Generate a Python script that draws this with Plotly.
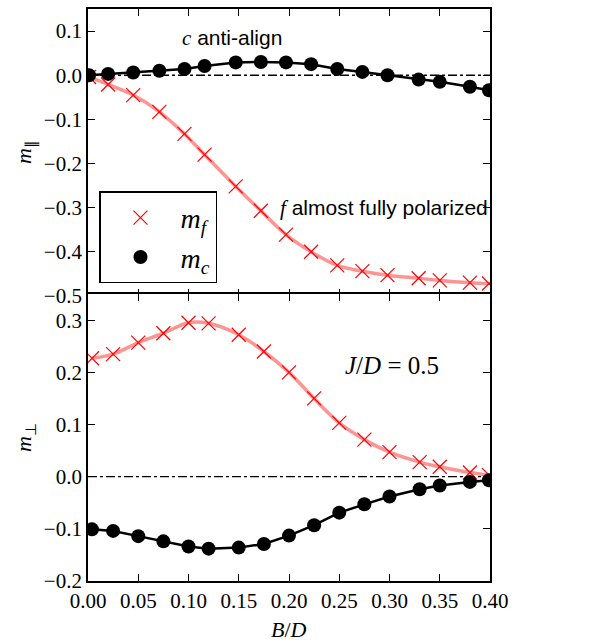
import plotly.graph_objects as go
from plotly.subplots import make_subplots

# ---- data ----
x_top = [0.001, 0.02, 0.045, 0.071, 0.096, 0.116, 0.147, 0.172, 0.197, 0.222,
         0.248, 0.273, 0.298, 0.329, 0.35, 0.38, 0.399]
mpar_f = [-0.004, -0.021, -0.045, -0.083, -0.133, -0.18, -0.252, -0.307, -0.361,
          -0.40, -0.431, -0.444, -0.453, -0.46, -0.465, -0.47, -0.472]
mpar_c = [0.0, 0.003, 0.006, 0.010, 0.014, 0.021, 0.029, 0.030, 0.029, 0.025,
          0.014, 0.0075, 0.0, -0.010, -0.015, -0.026, -0.034]

x_bot = [0.004, 0.025, 0.05, 0.075, 0.1, 0.12, 0.15, 0.175, 0.2, 0.225,
         0.25, 0.275, 0.3, 0.33, 0.35, 0.38, 0.399]
mperp_f = [0.227, 0.235, 0.257, 0.275, 0.295, 0.294, 0.272, 0.24, 0.2, 0.15,
           0.103, 0.071, 0.047, 0.028, 0.019, 0.008, 0.003]
mperp_c = [-0.101, -0.104, -0.114, -0.124, -0.134, -0.138, -0.136, -0.129, -0.113,
           -0.093, -0.069, -0.053, -0.038, -0.024, -0.017, -0.010, -0.007]

x_ticks = [0.0, 0.05, 0.10, 0.15, 0.20, 0.25, 0.30, 0.35, 0.40]
x_ticklabels = ["0.00", "0.05", "0.10", "0.15", "0.20", "0.25", "0.30", "0.35", "0.40"]
top_ticks = [0.1, 0.0, -0.1, -0.2, -0.3, -0.4, -0.5]
bot_ticks = [0.3, 0.2, 0.1, 0.0, -0.1, -0.2]

SERIF = "Liberation Serif"
SANS = "Liberation Sans"
RED_LINE = "rgba(255,60,60,0.55)"
LW = 1.8

def fmt(v):
    s = f"{v:.1f}"
    return s.replace("-", "\u2212")

fig = make_subplots(rows=2, cols=1, shared_xaxes=True, vertical_spacing=0)

# zero reference lines (drawn first so they sit beneath the data)
x_span = [x_ticks[0], x_ticks[-1]]
for r in (1, 2):
    fig.add_trace(go.Scatter(x=x_span, y=[0, 0], mode="lines",
                             line=dict(color="black", width=1.4, dash="dashdot"),
                             showlegend=False, hoverinfo="skip"), row=r, col=1)

# top panel
fig.add_trace(go.Scatter(x=x_top, y=mpar_f, mode="lines", line=dict(color=RED_LINE, width=3.5, shape="spline"),
                         showlegend=False, hoverinfo="skip"), row=1, col=1)
fig.add_trace(go.Scatter(x=x_top, y=mpar_c, mode="lines", line=dict(color="black", width=2.5),
                         showlegend=False, hoverinfo="skip"), row=1, col=1)
fig.add_trace(go.Scatter(x=x_top, y=mpar_f, mode="markers", name="<i>m</i><sub><i>f</i></sub>",
                         marker=dict(symbol="x-thin", size=14, line=dict(color="red", width=1.2), color="red")),
              row=1, col=1)
fig.add_trace(go.Scatter(x=x_top, y=mpar_c, mode="markers", name="<i>m</i><sub><i>c</i></sub>",
                         marker=dict(symbol="circle", size=14, color="black")), row=1, col=1)

# bottom panel
fig.add_trace(go.Scatter(x=x_bot, y=mperp_f, mode="lines", line=dict(color=RED_LINE, width=3.5, shape="spline"),
                         showlegend=False, hoverinfo="skip"), row=2, col=1)
fig.add_trace(go.Scatter(x=x_bot, y=mperp_c, mode="lines", line=dict(color="black", width=2.5),
                         showlegend=False, hoverinfo="skip"), row=2, col=1)
fig.add_trace(go.Scatter(x=x_bot, y=mperp_f, mode="markers", showlegend=False,
                         marker=dict(symbol="x-thin", size=14, line=dict(color="red", width=1.2), color="red")),
              row=2, col=1)
fig.add_trace(go.Scatter(x=x_bot, y=mperp_c, mode="markers", showlegend=False,
                         marker=dict(symbol="circle", size=14, color="black")), row=2, col=1)

axis_common = dict(showline=True, linecolor="black", linewidth=LW, mirror="ticks",
                   ticks="inside", ticklen=7, tickwidth=1.3, tickcolor="black",
                   showgrid=False, zeroline=False,
                   tickfont=dict(family=SERIF, size=21, color="black"))

fig.update_xaxes(range=[0, 0.4], tickvals=x_ticks, ticktext=x_ticklabels, **axis_common)
fig.update_xaxes(showticklabels=False, row=1, col=1)
half = (LW / 2) / 574
fig.update_yaxes(range=[-0.5, 0.15], tickvals=top_ticks, ticktext=[fmt(v) for v in top_ticks],
                 domain=[0.5 - half, 1], row=1, col=1, **axis_common)
fig.update_yaxes(range=[-0.2, 0.35], tickvals=bot_ticks, ticktext=[fmt(v) for v in bot_ticks],
                 domain=[0, 0.5 + half], row=2, col=1, **axis_common)

ann_font = dict(family=SANS, size=21, color="black")
fig.add_annotation(xref="paper", yref="paper", x=(232 - 88) / 402, y=(581 - 36) / 574,
                   xanchor="center", yanchor="middle",
                   text=f"<span style='font-family:\"{SERIF}\"'><i>c</i></span> anti-align",
                   showarrow=False, font=ann_font)
fig.add_annotation(xref="paper", yref="paper", x=(278 - 88) / 402, y=(581 - 207) / 574,
                   xanchor="left", yanchor="middle",
                   text=f"<span style='font-family:\"{SERIF}\"'><i>f</i></span> almost fully polarized",
                   showarrow=False, font=ann_font)
fig.add_annotation(xref="paper", yref="paper", x=(392 - 88) / 402, y=(581 - 365) / 574,
                   xanchor="center", yanchor="middle",
                   text="<i>J</i>/<i>D</i> = 0.5", showarrow=False,
                   font=dict(family=SERIF, size=25, color="black"))
fig.add_annotation(xref="paper", yref="paper", x=(25 - 88) / 402, y=0.75, textangle=-90,
                   xanchor="center", yanchor="middle",
                   text="<i>m</i><sub>\u2225</sub>", showarrow=False,
                   font=dict(family=SERIF, size=22, color="black"))
fig.add_annotation(xref="paper", yref="paper", x=(25 - 88) / 402, y=0.25, textangle=-90,
                   xanchor="center", yanchor="middle",
                   text="<i>m</i><sub>\u22a5</sub>", showarrow=False,
                   font=dict(family=SERIF, size=22, color="black"))
fig.add_annotation(xref="paper", yref="paper", x=0.5, y=(581 - 630) / 574,
                   xanchor="center", yanchor="middle",
                   text="<i>B</i>/<i>D</i>", showarrow=False,
                   font=dict(family=SERIF, size=22, color="black"))

fig.update_layout(
    width=614, height=642,
    margin=dict(l=88, r=124, t=7, b=61),
    plot_bgcolor="white", paper_bgcolor="white",
    showlegend=True,
    legend=dict(x=(99 - 88) / 402, y=(581 - 190) / 574, xanchor="left", yanchor="top",
                bordercolor="black", borderwidth=1.5, bgcolor="white",
                font=dict(family=SERIF, size=28, color="black"),
                itemwidth=70, tracegroupgap=8),
)

fig.write_html("out.html")
